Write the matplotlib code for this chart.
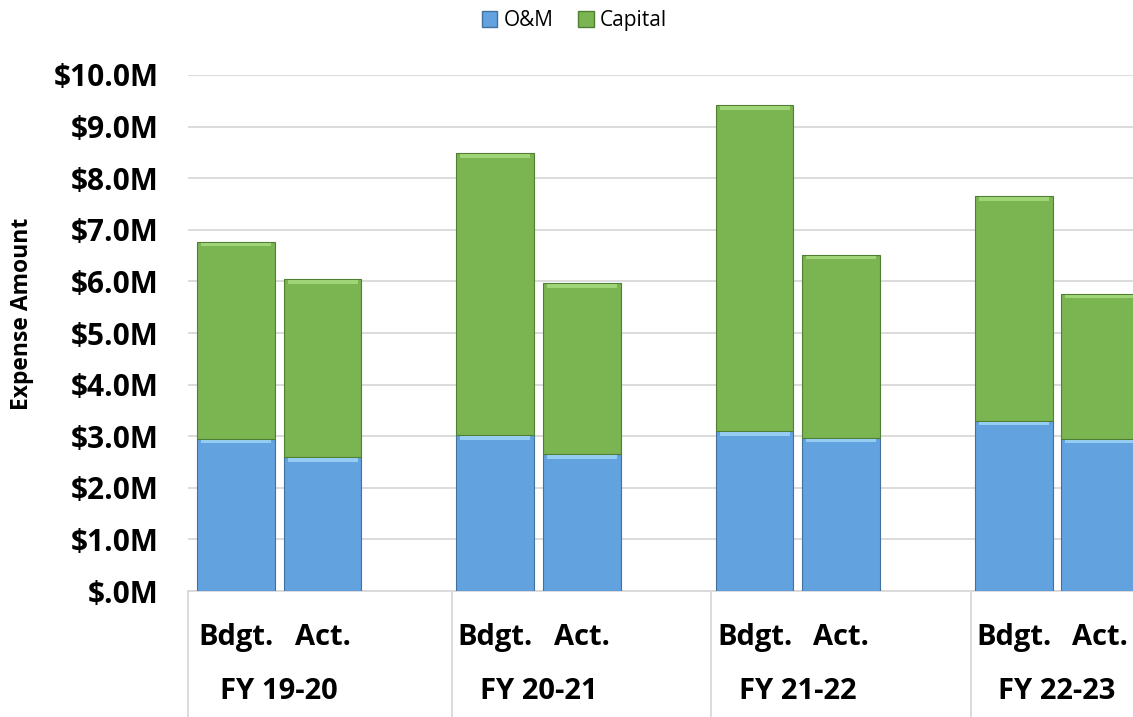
"""
Stacked O&M / Capital expense bars, budget vs actual by fiscal year.
"""

import matplotlib.pyplot as plt
from matplotlib.patches import Patch
from matplotlib.ticker import FuncFormatter
import numpy as np

plt.rcParams['font.family'] = ['Open Sans', 'DejaVu Sans']

fiscal_years = ['FY 19-20', 'FY 20-21', 'FY 21-22', 'FY 22-23']
bar_labels = ['Bdgt.', 'Act.'] * 4
om = [2.95, 2.60, 3.02, 2.65, 3.10, 2.97, 3.30, 2.95]
total = [6.77, 6.04, 8.48, 5.97, 9.42, 6.52, 7.65, 5.76]
capital = [t - o for t, o in zip(total, om)]

BLUE = '#62a2df'
BLUE_EDGE = '#41719c'
BLUE_HI = '#a3d8f7'
GREEN = '#7ab551'
GREEN_EDGE = '#507e32'
GREEN_HI = '#a9de80'
GRID = '#d9d9d9'

# two bars per year, then a blank slot
x = np.array([g * 3 + k for g in range(4) for k in range(2)])

fig = plt.figure(figsize=(11.33, 7.17), dpi=100)
ax = fig.add_axes([0.166, 0.1757, 0.834, 0.7197])

w = 0.9
ax.bar(x, om, w, color=BLUE, edgecolor=BLUE_EDGE, linewidth=0.8, zorder=3)
ax.bar(x, capital, w, bottom=om, color=GREEN, edgecolor=GREEN_EDGE, linewidth=0.8, zorder=3)
# bevel highlight at the top of each segment
hi = 0.07
ax.bar(x, hi, w * 0.9, bottom=np.array(om) - hi - 0.02, color=BLUE_HI, linewidth=0, zorder=4, alpha=0.8)
ax.bar(x, hi, w * 0.9, bottom=np.array(total) - hi - 0.02, color=GREEN_HI, linewidth=0, zorder=4, alpha=0.8)

ax.set_ylim(0, 10)
ax.set_xlim(-0.556, 10.38)
ax.set_yticks(np.arange(0, 11, 1))
ax.yaxis.set_major_formatter(FuncFormatter(lambda v, p: '$.0M' if v == 0 else '${:.1f}M'.format(v)))
ax.grid(axis='y', color=GRID, linewidth=1.3, zorder=0)
ax.tick_params(axis='y', length=0, labelsize=21.5, pad=21)
for lbl in ax.get_yticklabels():
    lbl.set_fontweight('bold')
ax.set_xticks([])
for s in ['top', 'right', 'left']:
    ax.spines[s].set_visible(False)
ax.spines['bottom'].set_color(GRID)
ax.spines['bottom'].set_linewidth(1.3)

ax.set_ylabel('Expense Amount', fontsize=16.5, fontweight='bold')
ax.yaxis.set_label_coords(-0.163, 0.537)

# category separators below the axis
xt = ax.get_xaxis_transform()
for sx in [-0.556, 2.5, 5.5, 8.5]:
    ax.plot([sx, sx], [0, -0.25], transform=xt, color=GRID, linewidth=1.3, clip_on=False)

for xi, lab in zip(x, bar_labels):
    ax.text(xi, -0.091, lab, transform=xt, ha='center', va='center', fontsize=21, fontweight='bold')
for g, fy in enumerate(fiscal_years):
    ax.text(g * 3 + 0.5, -0.194, fy, transform=xt, ha='center', va='center', fontsize=21, fontweight='bold')

handles = [Patch(facecolor=BLUE, edgecolor=BLUE_EDGE), Patch(facecolor=GREEN, edgecolor=GREEN_EDGE)]
fig.legend(handles, ['O&M', 'Capital'], loc='center', bbox_to_anchor=(0.507, 0.971), ncol=2,
           frameon=False, fontsize=15, handlelength=0.75, handleheight=0.75, handletextpad=0.3, columnspacing=1.2)

fig.savefig('out.png', dpi=100)
